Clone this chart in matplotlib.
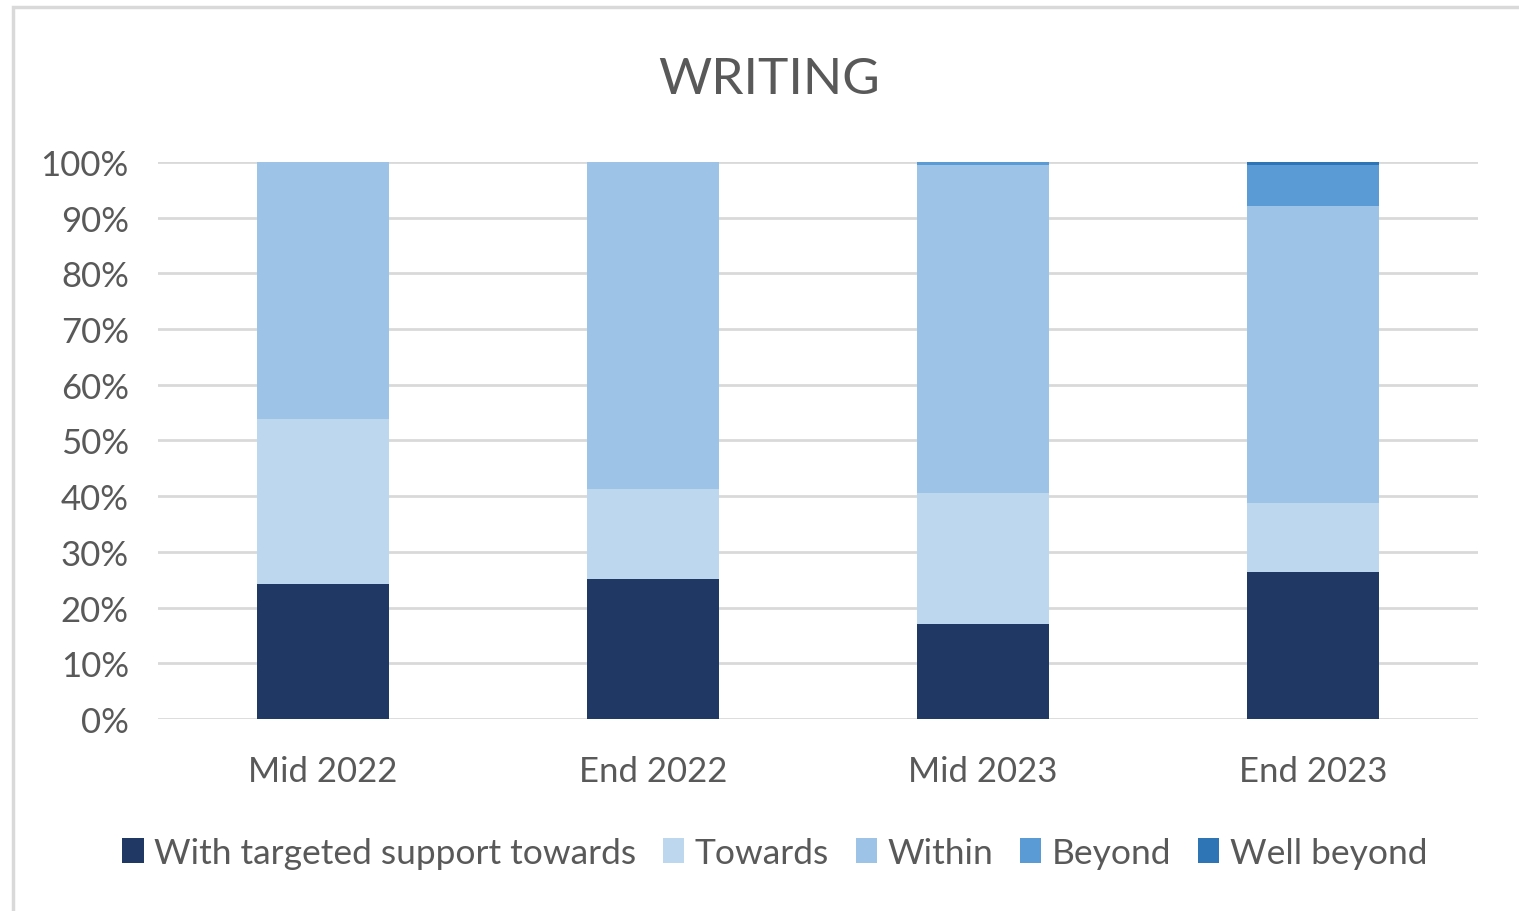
import matplotlib.pyplot as plt
import matplotlib.patches as mpatches
import numpy as np

plt.rcParams['font.family'] = ['Lato', 'DejaVu Sans']

# data (percent of students)
periods = ['Mid 2022', 'End 2022', 'Mid 2023', 'End 2023']
targeted = [24.2, 25.1, 17.1, 26.4]
towards = [29.7, 16.2, 23.5, 12.4]
within = [46.1, 58.7, 58.8, 53.3]
beyond = [0.0, 0.0, 0.6, 7.3]
well_beyond = [0.0, 0.0, 0.0, 0.6]

series = [
    ('With targeted support towards', targeted, '#203864'),
    ('Towards', towards, '#BDD7EE'),
    ('Within', within, '#9DC3E6'),
    ('Beyond', beyond, '#5B9BD5'),
    ('Well beyond', well_beyond, '#2E75B6'),
]

fig = plt.figure(figsize=(15.19, 9.12), dpi=100)
ax = fig.add_axes([0.104, 0.2105, 0.869, 0.6108])

# chart frame (cropped on right / bottom like the original)
fig.patches.append(mpatches.Rectangle((13 / 1519, -0.1), 2.0, 0.1 + 1 - 8 / 912,
                                      transform=fig.transFigure, fill=False,
                                      edgecolor='#d9d9d9', linewidth=2.5))

x = np.arange(len(periods))
bottom = np.zeros(len(periods))
for name, vals, col in series:
    ax.bar(x, vals, 0.4, bottom=bottom, color=col, label=name, zorder=3)
    bottom += np.array(vals)

ax.set_xlim(-0.5, 3.5)
ax.set_ylim(0, 100)
ax.set_yticks(np.arange(0, 101, 10))
ax.set_yticklabels([f'{v}%' for v in range(0, 101, 10)])
ax.set_xticks(x)
ax.set_xticklabels(periods)
ax.grid(axis='y', color='#d9d9d9', linewidth=2, zorder=0)
for s in ax.spines.values():
    s.set_visible(False)
ax.tick_params(length=0, labelsize=25, colors='#595959')
ax.tick_params(axis='x', pad=26)
ax.tick_params(axis='y', pad=21)

fig.text(0.506, 0.912, 'WRITING', ha='center', va='center', fontsize=37, color='#595959')

fig.legend(loc='center', bbox_to_anchor=(0.51, 0.064), ncol=5, frameon=False,
           fontsize=25.5, handlelength=0.6, handleheight=0.7, handletextpad=0.3,
           columnspacing=0.75, labelcolor='#595959')

fig.savefig('out.png', dpi=100)
